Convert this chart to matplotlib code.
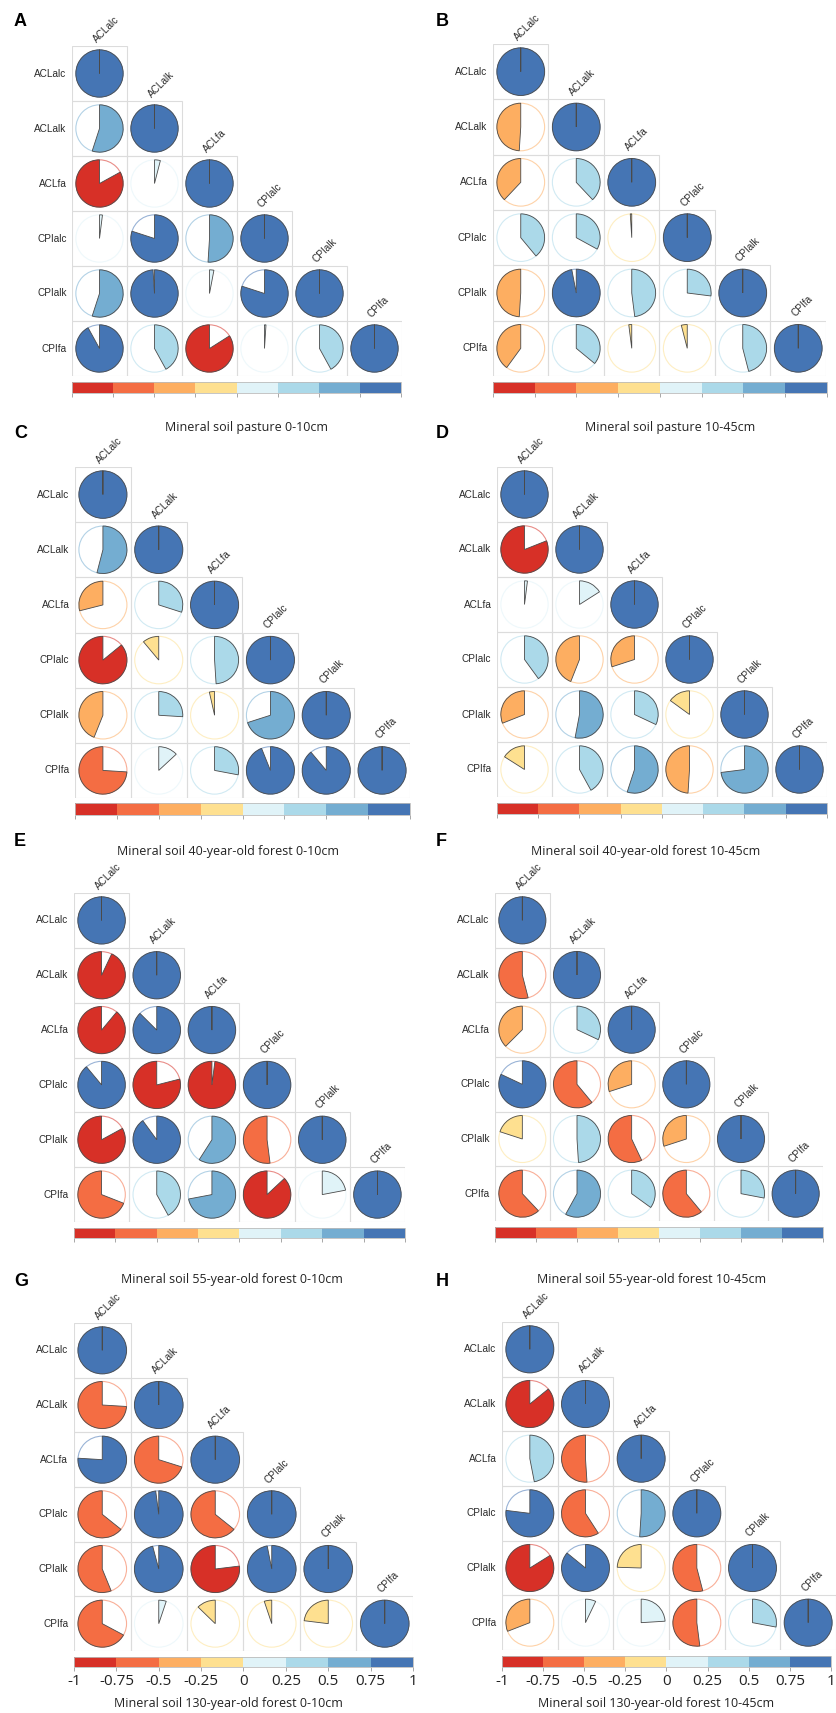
import numpy as np
import matplotlib
matplotlib.use('Agg')
import matplotlib.pyplot as plt
from matplotlib.patches import Wedge, Circle, Rectangle
from matplotlib.colors import ListedColormap, BoundaryNorm, to_rgb
from matplotlib.cm import ScalarMappable

# variables (rows / columns of every matrix)
labels = ['ACLalc', 'ACLalk', 'ACLfa', 'CPIalc', 'CPIalk', 'CPIfa']

# colour classes
bounds = [-1, -0.75, -0.5, -0.25, 0, 0.25, 0.5, 0.75, 1]
tick_labels = ['-1', '-0.75', '-0.5', '-0.25', '0', '0.25', '0.5', '0.75', '1']
class_colors = ['#D73027', '#F46D43', '#FDAE61', '#FEE090',
                '#E0F3F8', '#ABD9E9', '#74ADD1', '#4575B4']

panel_letters = ['A', 'B', 'C', 'D', 'E', 'F', 'G', 'H']
panel_titles = ['Mineral soil pasture 0-10cm',
                'Mineral soil pasture 10-45cm',
                'Mineral soil 40-year-old forest 0-10cm',
                'Mineral soil 40-year-old forest 10-45cm',
                'Mineral soil 55-year-old forest 0-10cm',
                'Mineral soil 55-year-old forest 10-45cm',
                'Mineral soil 130-year-old forest 0-10cm',
                'Mineral soil 130-year-old forest 10-45cm']

# lower triangles of the correlation matrices
corr_A = [[1],
          [0.55, 1],
          [-0.83, 0.04, 1],
          [0.02, 0.80, 0.51, 1],
          [0.55, 0.99, 0.03, 0.80, 1],
          [0.92, 0.42, -0.84, 0.01, 0.42, 1]]
corr_B = [[1],
          [-0.49, 1],
          [-0.38, 0.38, 1],
          [0.39, 0.33, -0.01, 1],
          [-0.49, 0.97, 0.48, 0.27, 1],
          [-0.40, 0.36, -0.02, -0.04, 0.46, 1]]
corr_C = [[1],
          [0.54, 1],
          [-0.29, 0.30, 1],
          [-0.86, -0.11, 0.49, 1],
          [-0.44, 0.26, -0.035, 0.70, 1],
          [-0.74, 0.13, 0.28, 0.94, 0.89, 1]]
corr_D = [[1],
          [-0.81, 1],
          [0.02, 0.16, 1],
          [0.40, -0.44, -0.30, 1],
          [-0.31, 0.53, 0.32, -0.15, 1],
          [-0.16, 0.42, 0.55, -0.49, 0.73, 1]]
corr_E = [[1],
          [-0.93, 1],
          [-0.89, 0.875, 1],
          [0.89, -0.79, -0.98, 1],
          [-0.83, 0.90, 0.59, -0.52, 1],
          [-0.69, 0.42, 0.72, -0.87, 0.22, 1]]
corr_F = [[1],
          [-0.54, 1],
          [-0.375, 0.32, 1],
          [0.82, -0.61, -0.30, 1],
          [-0.20, 0.49, -0.57, -0.30, 1],
          [-0.62, 0.58, 0.35, -0.61, 0.28, 1]]
corr_G = [[1],
          [-0.74, 1],
          [0.76, -0.70, 1],
          [-0.64, 0.98, -0.64, 1],
          [-0.56, 0.96, -0.77, 0.97, 1],
          [-0.67, 0.05, -0.125, -0.05, -0.23, 1]]
corr_H = [[1],
          [-0.86, 1],
          [0.47, -0.51, 1],
          [0.77, -0.59, 0.51, 1],
          [-0.84, 0.86, -0.245, -0.54, 1],
          [-0.31, 0.07, 0.24, -0.52, 0.28, 1]]
corrs = [corr_A, corr_B, corr_C, corr_D, corr_E, corr_F, corr_G, corr_H]

# ---- layout in pixels (left, top, width, height) ----
W, H = 837, 1713
grid_px = [(72, 46, 330, 330), (493, 44, 333, 332),
           (75, 467, 335, 331), (497, 467, 330, 330),
           (74, 893, 331, 329), (495, 893, 328, 328),
           (74, 1323, 339, 328), (502, 1322, 334, 328)]
cbar_px = [(72, 382, 329, 11), (493, 382, 334, 11),
           (75, 803, 335, 12), (497, 803, 330, 11),
           (74, 1228, 331, 10), (495, 1227, 328, 11),
           (74, 1657, 339, 10), (502, 1656, 329, 11)]
letter_px = [(14, 22), (436, 22), (14, 433), (436, 433),
             (14, 842), (436, 842), (14, 1281), (436, 1281)]
title_px = [(247, 428), (670, 428), (228, 851), (646, 851),
            (232, 1279), (652, 1279), (228, 1703), (656, 1703)]
show_ticklabels = [False] * 6 + [True, True]


def to_fig(box):
    l, t, w, h = box
    return [l / W, 1 - (t + h) / H, w / W, h / H]


cmap = ListedColormap(class_colors)
norm = BoundaryNorm(bounds, cmap.N, clip=True)


def lighter(c, f=0.45):
    r, g, b = to_rgb(c)
    return (r + (1 - r) * f, g + (1 - g) * f, b + (1 - b) * f)


fig = plt.figure(figsize=(W / 100, H / 100), dpi=100)
fig.patch.set_facecolor('white')

n = len(labels)
for k in range(8):
    ax = fig.add_axes(to_fig(grid_px[k]))
    ax.set_xlim(0, n)
    ax.set_ylim(0, n)
    ax.axis('off')
    mat = corrs[k]
    for i in range(n):
        for j in range(i + 1):
            r = mat[i][j]
            cx, cy = j + 0.5, n - i - 0.5
            ax.add_patch(Rectangle((j, n - i - 1), 1, 1, fill=False,
                                   edgecolor='#dcdcdc', lw=0.8))
            col = cmap(norm(r))
            ax.add_patch(Circle((cx, cy), 0.43, fill=False,
                                edgecolor=lighter(col), lw=0.8))
            span = min(360 * abs(r), 359.99)
            if r >= 0:
                t1, t2 = 90 - span, 90
            else:
                t1, t2 = 90, 90 + span
            ax.add_patch(Wedge((cx, cy), 0.43, t1, t2, facecolor=col,
                               edgecolor='#4a4a4a', lw=0.6))
        ax.text(-0.1, n - i - 0.5, labels[i], ha='right', va='center',
                fontsize=7.2, color='#2a2a2a', family='Liberation Sans')
        ax.annotate(labels[i], (i + 0.5, n - i), xytext=(-1, 1.5),
                    textcoords='offset points', ha='left', va='bottom',
                    rotation=45, rotation_mode='anchor', fontsize=7.2,
                    color='#2a2a2a', family='Liberation Sans',
                    annotation_clip=False)

    cax = fig.add_axes(to_fig(cbar_px[k]))
    cb = fig.colorbar(ScalarMappable(norm=norm, cmap=cmap), cax=cax,
                      orientation='horizontal', ticks=bounds)
    cb.outline.set_edgecolor('#bbbbbb')
    cb.outline.set_linewidth(0.6)
    cax.tick_params(axis='x', length=3, width=0.6, color='#999999',
                    pad=2, labelsize=11, labelcolor='#222222')
    if show_ticklabels[k]:
        cax.set_xticklabels(tick_labels, family='Open Sans')
    else:
        cax.set_xticklabels([])

    lx, ly = letter_px[k]
    fig.text(lx / W, 1 - ly / H, panel_letters[k], ha='left', va='center',
             fontsize=13, fontweight='bold', family='Liberation Sans')
    tx, ty = title_px[k]
    fig.text(tx / W, 1 - ty / H, panel_titles[k], ha='center', va='center',
             fontsize=9, color='#222222', family='Open Sans')

fig.savefig('out.png', dpi=100, facecolor='white')
